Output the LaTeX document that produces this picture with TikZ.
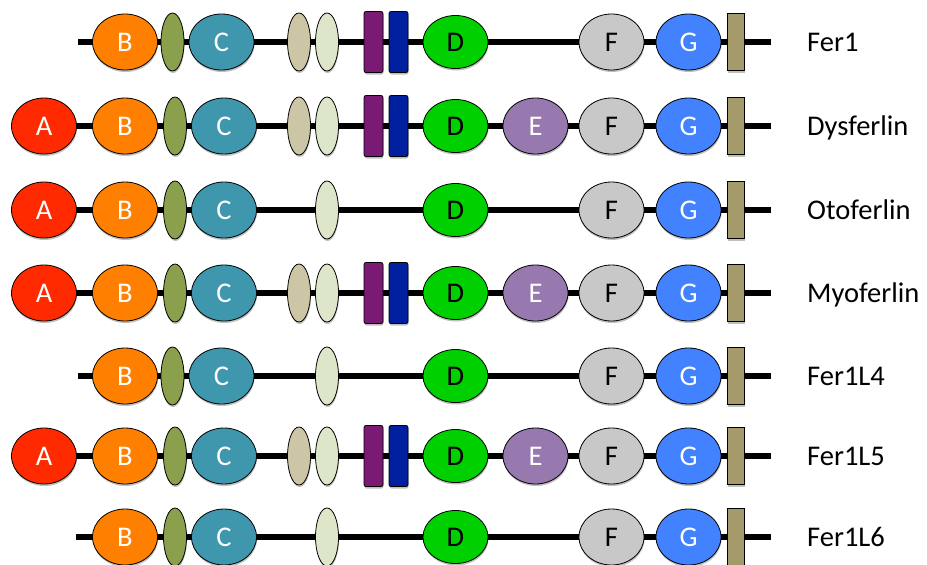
\documentclass[tikz,border=0pt]{standalone}
\usepackage{fontspec}
\setmainfont{Carlito}
\usetikzlibrary{shapes.geometric,shadows,backgrounds}

% domain colours
\definecolor{cA}{HTML}{FF2A00}
\definecolor{cB}{HTML}{FF8000}
\definecolor{cSm}{HTML}{8AA04C}
\definecolor{cC}{HTML}{3F97AD}
\definecolor{cTan}{HTML}{CCC6A6}
\definecolor{cLt}{HTML}{DDE6C9}
\definecolor{cPu}{HTML}{7A1A75}
\definecolor{cBl}{HTML}{0020A0}
\definecolor{cD}{HTML}{00CF00}
\definecolor{cE}{HTML}{9779B0}
\definecolor{cF}{HTML}{C8C8C8}
\definecolor{cG}{HTML}{4282FF}
\definecolor{cTM}{HTML}{A49A6A}

\newcommand\labfont{\fontsize{28.5}{30}\selectfont}

\tikzset{
  softshadow/.style={drop shadow={shadow xshift=0.5pt, shadow yshift=-2pt, opacity=0.25, fill=black}},
  dom/.style={ellipse, draw=black, line width=0.8pt, softshadow, minimum width=65pt,
              minimum height=56pt, inner sep=0pt, text height=19pt, text depth=0pt,
              font=\labfont},
  smalldom/.style={ellipse, draw=black, line width=0.8pt, softshadow, minimum width=23pt,
              minimum height=58pt, inner sep=0pt},
  bar/.style={rectangle, draw=black, line width=0.8pt, softshadow, rounded corners=2pt,
              minimum width=19pt, minimum height=61pt, inner sep=0pt},
  tmbox/.style={rectangle, draw=black, line width=0.8pt, softshadow, fill=cTM,
              minimum width=17pt, minimum height=57pt, inner sep=0pt},
  backbone/.style={line width=6pt, black},
  protname/.style={anchor=west, inner sep=0pt, text height=19pt, text depth=0pt,
              font=\labfont},
}

% pieces of one protein row: #1 row tag, #2 y position
\newcommand\partA[2]{\node[dom, fill=cA, text=white] (#1A) at (44,#2) {A};}
\newcommand\partBC[3]{% #3 = shift of the C2 pair after B
  \node[dom, fill=cB, text=white] (#1B) at (125,#2) {B};
  \node[smalldom, fill=cSm] (#1s) at (172.5+#3,#2) {};
  \node[dom, fill=cC, text=white] (#1C) at (221.5+#3,#2) {C};}
\newcommand\partPair[2]{%
  \node[smalldom, fill=cTan] (#1t) at (299,#2) {};
  \node[smalldom, fill=cLt] (#1l) at (327,#2) {};}
\newcommand\partOne[2]{\node[smalldom, fill=cLt] (#1l) at (327,#2) {};}
\newcommand\partBars[2]{%
  \node[bar, fill=cPu] (#1p) at (373.5,#2) {};
  \node[bar, fill=cBl] (#1q) at (398.5,#2) {};}
\newcommand\partD[2]{\node[dom, fill=cD, minimum height=53pt] (#1D) at (455.5,#2) {D};}
\newcommand\partE[2]{\node[dom, fill=cE, text=white] (#1E) at (535.5,#2) {E};}
\newcommand\partFG[2]{%
  \node[dom, fill=cF] (#1F) at (611.5,#2) {F};
  \node[dom, fill=cG, text=white] (#1G) at (688.5,#2) {G};
  \node[tmbox] (#1T) at (735.5,#2) {};
  \coordinate (#1end) at (771,#2);}

\begin{document}
\begin{tikzpicture}[x=1pt, y=-1pt]
\useasboundingbox (0,0) rectangle (927,565);

% Fer1
\coordinate (r1start) at (78,42);
\partBC{r1}{42}{0} \partPair{r1}{42} \partBars{r1}{42} \partD{r1}{42} \partFG{r1}{42}
\node[protname] (n1) at (807,42) {Fer1};

% Dysferlin
\partA{r2}{126} \partBC{r2}{126}{2.5} \partPair{r2}{126} \partBars{r2}{126}
\partD{r2}{126} \partE{r2}{126} \partFG{r2}{126}
\node[protname] (n2) at (807,126) {Dysferlin};

% Otoferlin
\partA{r3}{210} \partBC{r3}{210}{2.5} \partOne{r3}{210} \partD{r3}{210} \partFG{r3}{210}
\node[protname] (n3) at (807,210) {Otoferlin};

% Myoferlin
\partA{r4}{293} \partBC{r4}{293}{2.5} \partPair{r4}{293} \partBars{r4}{293}
\partD{r4}{293} \partE{r4}{293} \partFG{r4}{293}
\node[protname] (n4) at (807,293) {Myoferlin};

% Fer1L4
\coordinate (r5start) at (78,376);
\partBC{r5}{376}{0} \partOne{r5}{376} \partD{r5}{376} \partFG{r5}{376}
\node[protname] (n5) at (807,376) {Fer1L4};

% Fer1L5
\partA{r6}{456} \partBC{r6}{456}{2.5} \partPair{r6}{456} \partBars{r6}{456}
\partD{r6}{456} \partE{r6}{456} \partFG{r6}{456}
\node[protname] (n6) at (807,456) {Fer1L5};

% Fer1L6
\coordinate (r7start) at (76,537);
\partBC{r7}{537}{2.5} \partOne{r7}{537} \partD{r7}{537} \partFG{r7}{537}
\node[protname] (n7) at (807,537) {Fer1L6};

% backbones behind the domains
\begin{pgfonlayer}{background}
  \draw[backbone] (r1start) -- (r1end);
  \draw[backbone] (r2A.center) -- (r2end);
  \draw[backbone] (r3A.center) -- (r3end);
  \draw[backbone] (r4A.center) -- (r4end);
  \draw[backbone] (r5start) -- (r5end);
  \draw[backbone] (r6A.center) -- (r6end);
  \draw[backbone] (r7start) -- (r7end);
\end{pgfonlayer}
\end{tikzpicture}
\end{document}
